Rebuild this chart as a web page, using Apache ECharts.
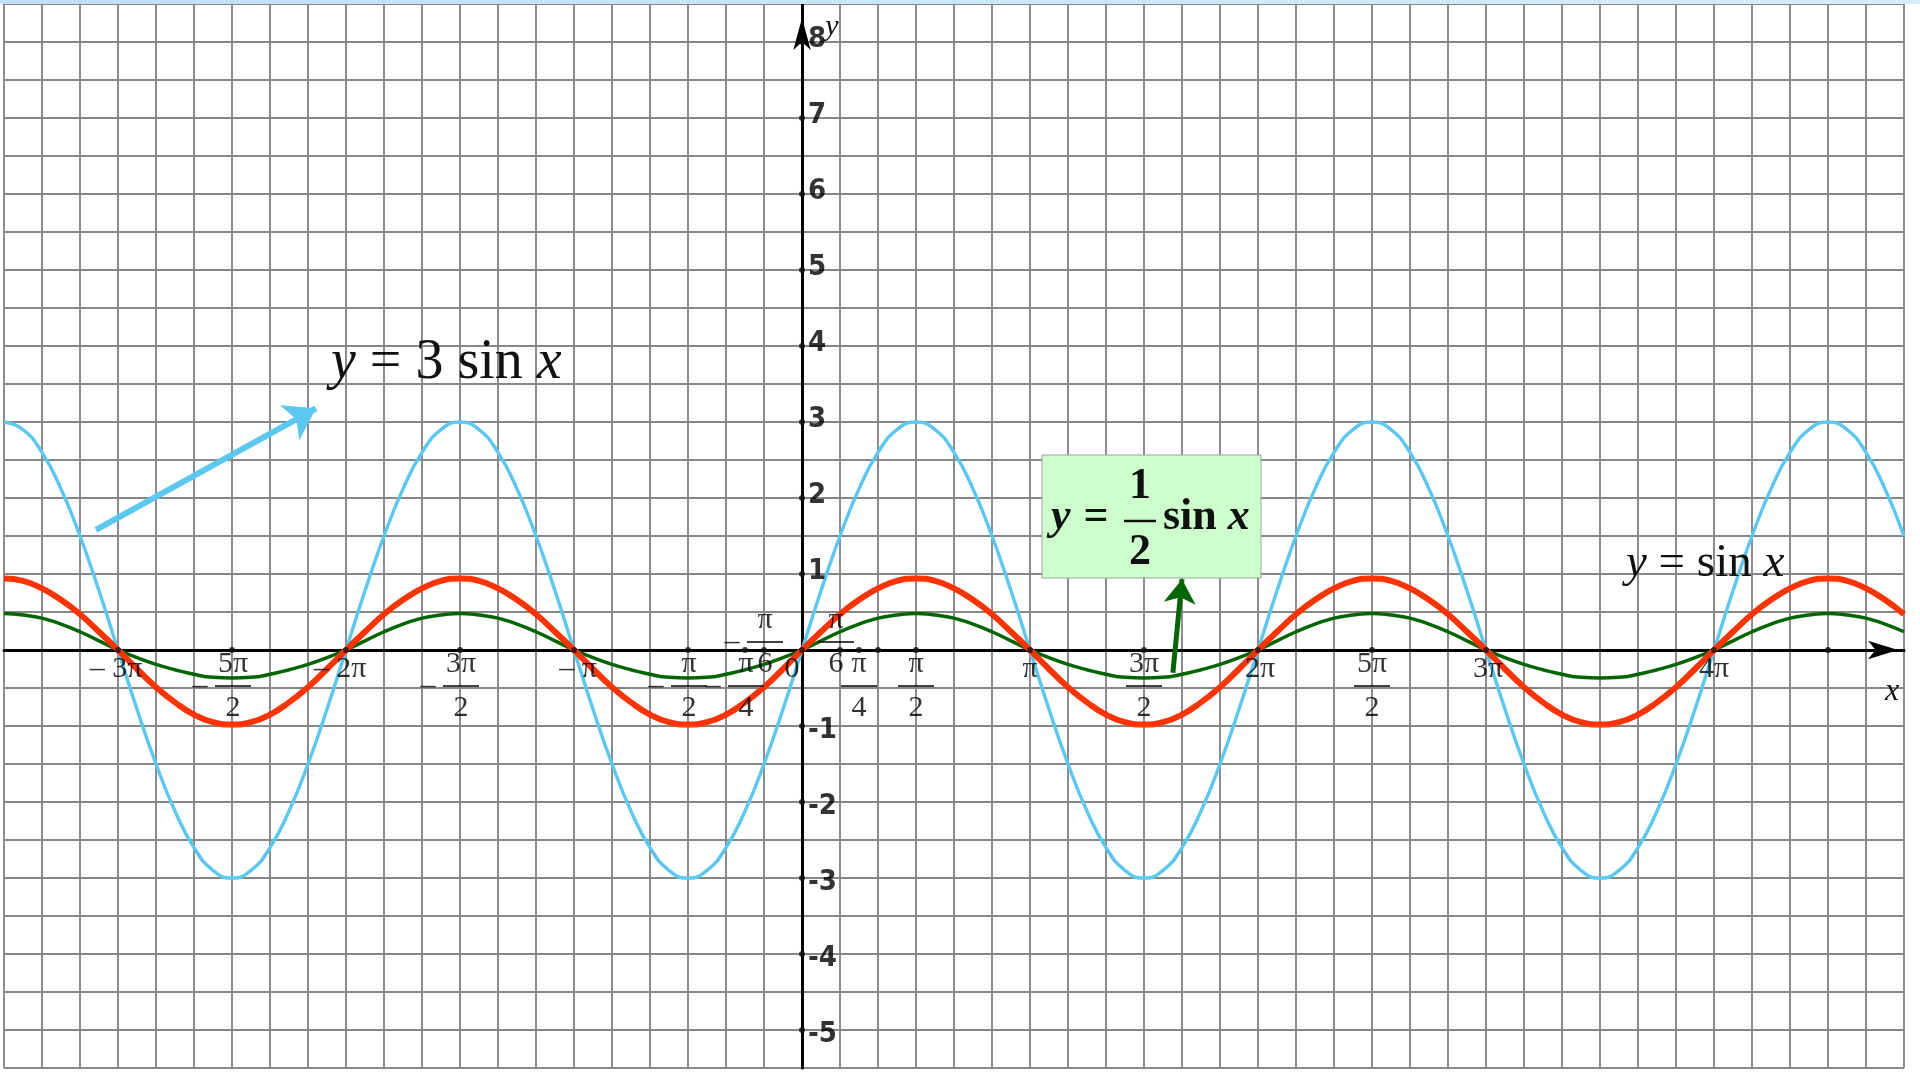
<!DOCTYPE html>
<html>
<head>
<meta charset="utf-8">
<script src="https://cdn.jsdelivr.net/npm/echarts@6/dist/echarts.min.js"></script>
<style>
html,body{margin:0;padding:0;background:#fff;overflow:hidden;}
#c{width:1920px;height:1073px;}
</style>
</head>
<body>
<div id="c"></div>
<script>
// x positions in units of pi/6 (sampled every pi/12)
const xSixths = [-21,-20.5,-20,-19.5,-19,-18.5,-18,-17.5,-17,-16.5,-16,-15.5,-15,-14.5,-14,-13.5,-13,-12.5,
  -12,-11.5,-11,-10.5,-10,-9.5,-9,-8.5,-8,-7.5,-7,-6.5,-6,-5.5,-5,-4.5,-4,-3.5,-3,-2.5,-2,-1.5,-1,-0.5,
  0,0.5,1,1.5,2,2.5,3,3.5,4,4.5,5,5.5,6,6.5,7,7.5,8,8.5,9,9.5,10,10.5,11,11.5,
  12,12.5,13,13.5,14,14.5,15,15.5,16,16.5,17,17.5,18,18.5,19,19.5,20,20.5,21,21.5,22,22.5,23,23.5,
  24,24.5,25,25.5,26,26.5,27,27.5,28,28.5,29];
// y = 3 sin x (light blue)
const y3sin = [3,2.9,2.6,2.12,1.5,0.78,0,-0.78,-1.5,-2.12,-2.6,-2.9,-3,-2.9,-2.6,-2.12,-1.5,-0.78,
  0,0.78,1.5,2.12,2.6,2.9,3,2.9,2.6,2.12,1.5,0.78,0,-0.78,-1.5,-2.12,-2.6,-2.9,-3,-2.9,-2.6,-2.12,-1.5,-0.78,
  0,0.78,1.5,2.12,2.6,2.9,3,2.9,2.6,2.12,1.5,0.78,0,-0.78,-1.5,-2.12,-2.6,-2.9,-3,-2.9,-2.6,-2.12,-1.5,-0.78,
  0,0.78,1.5,2.12,2.6,2.9,3,2.9,2.6,2.12,1.5,0.78,0,-0.78,-1.5,-2.12,-2.6,-2.9,-3,-2.9,-2.6,-2.12,-1.5,-0.78,
  0,0.78,1.5,2.12,2.6,2.9,3,2.9,2.6,2.12,1.5];
// y = sin x (red)
const ysin = [0.94,0.91,0.81,0.66,0.47,0.24,0,-0.25,-0.49,-0.69,-0.85,-0.95,-0.98,-0.95,-0.85,-0.69,-0.49,-0.25,
  0,0.24,0.47,0.66,0.81,0.91,0.94,0.91,0.81,0.66,0.47,0.24,0,-0.25,-0.49,-0.69,-0.85,-0.95,-0.98,-0.95,-0.85,-0.69,-0.49,-0.25,
  0,0.24,0.47,0.66,0.81,0.91,0.94,0.91,0.81,0.66,0.47,0.24,0,-0.25,-0.49,-0.69,-0.85,-0.95,-0.98,-0.95,-0.85,-0.69,-0.49,-0.25,
  0,0.24,0.47,0.66,0.81,0.91,0.94,0.91,0.81,0.66,0.47,0.24,0,-0.25,-0.49,-0.69,-0.85,-0.95,-0.98,-0.95,-0.85,-0.69,-0.49,-0.25,
  0,0.24,0.47,0.66,0.81,0.91,0.94,0.91,0.81,0.66,0.47];
// y = 1/2 sin x (dark green)
const yHalfSin = [0.48,0.46,0.42,0.34,0.24,0.12,0,-0.1,-0.19,-0.26,-0.32,-0.36,-0.37,-0.36,-0.32,-0.26,-0.19,-0.1,
  0,0.12,0.24,0.34,0.42,0.46,0.48,0.46,0.42,0.34,0.24,0.12,0,-0.1,-0.19,-0.26,-0.32,-0.36,-0.37,-0.36,-0.32,-0.26,-0.19,-0.1,
  0,0.12,0.24,0.34,0.42,0.46,0.48,0.46,0.42,0.34,0.24,0.12,0,-0.1,-0.19,-0.26,-0.32,-0.36,-0.37,-0.36,-0.32,-0.26,-0.19,-0.1,
  0,0.12,0.24,0.34,0.42,0.46,0.48,0.46,0.42,0.34,0.24,0.12,0,-0.1,-0.19,-0.26,-0.32,-0.36,-0.37,-0.36,-0.32,-0.26,-0.19,-0.1,
  0,0.12,0.24,0.34,0.42,0.46,0.48,0.46,0.42,0.34,0.24];
// x-axis tick marks (pi/6 units) and their labels
const xTickPos    = [-18, -15, -12, -9, -6, -3, -1.5, -1, 0, 1, 1.5, 2, 3, 6, 9, 12, 15, 18, 24, 27];
const xTickLabels = ['-3π','-5π/2','-2π','-3π/2','-π','-π/2','-π/4','-π/6','0','π/6','π/4','','π/2','π','3π/2','2π','5π/2','3π','4π',''];
// y-axis tick marks
const yTickVals = [8,7,6,5,4,3,2,1,-1,-2,-3,-4,-5];
// arrows (data coords: [x in pi/6, y])
const arrow3Start = [-18.58, 1.58], arrow3End = [-12.79, 3.18];
const arrowHalfStart = [9.76, -0.30], arrowHalfEnd = [10.0, 0.93];

const serif = "'Liberation Serif','Times New Roman',serif";
const plainOffsets = {'-3π':[-2,0],'-2π':[-6,0],'-π':[4,0],'0':[-10,0],'π':[0,0],'2π':[2,0],'3π':[2,0],'4π':[0,0]};

const tickItems = xTickPos.map((x, i) => {
  const t = xTickLabels[i];
  const label = {show: t !== ''};
  if (t.indexOf('/') >= 0) {
    const neg = t[0] === '-';
    const parts = t.replace('-', '').split('/');
    const s = neg ? '{s| }' : '';
    const m = neg ? '{m|–}' : '';
    label.formatter = s + '{n|' + parts[0] + '}\n' + m + '{b| }\n' + s + '{n|' + parts[1] + '}';
    if (parts[1] === '6') {
      label.position = 'inside';
      label.offset = [neg ? -14 : -4, -8];
    } else {
      label.position = 'bottom';
      label.distance = 0;
      label.offset = [neg ? -14 : 0, 0];
    }
  } else if (t !== '') {
    label.formatter = t.replace('-', '– ');
    label.position = 'bottom';
    label.distance = 1;
    label.offset = plainOffsets[t] || [0, 0];
  }
  return {value: [x, 0], label: label};
});

const yItems = yTickVals.map(v => ({value: [0, v], label: {offset: [0, v > 0 ? -3 : 4]}}));

const gridLine = {show: true, lineStyle: {color: '#878787', width: 1.9}};

const chart = echarts.init(document.getElementById('c'));
chart.setOption({
  animation: false,
  backgroundColor: '#ffffff',
  grid: {left: 4, right: 16, top: 4, bottom: 5, containLabel: false},
  xAxis: {
    type: 'value', min: -21, max: 29, interval: 1,
    splitLine: gridLine,
    axisTick: {show: false},
    axisLabel: {show: false},
    axisLine: {show: true, onZero: true, lineStyle: {color: '#000', width: 3},
      symbol: ['none', 'arrow'], symbolSize: [14, 30], symbolOffset: [0, -6]}
  },
  yAxis: {
    type: 'value', min: -5.5, max: 8.5, interval: 0.5,
    splitLine: gridLine,
    axisTick: {show: false},
    axisLabel: {show: false},
    axisLine: {show: true, onZero: true, lineStyle: {color: '#000', width: 3},
      symbol: ['none', 'arrow'], symbolSize: [13, 32], symbolOffset: [0, -14]}
  },
  series: [
    {
      name: 'y=3sinx', type: 'line', smooth: true, showSymbol: false, z: 2,
      data: xSixths.map((x, i) => [x, y3sin[i]]),
      lineStyle: {color: '#5ac8f0', width: 3.5},
      markLine: {
        silent: true, symbol: ['none', 'arrow'], symbolSize: 30,
        label: {show: false},
        lineStyle: {color: '#5ac8f0', width: 6, type: 'solid'},
        data: [[{coord: arrow3Start}, {coord: arrow3End}]]
      }
    },
    {
      name: 'y=1/2sinx', type: 'line', smooth: true, showSymbol: false, z: 3,
      data: xSixths.map((x, i) => [x, yHalfSin[i]]),
      lineStyle: {color: '#006600', width: 3.5},
      markLine: {
        silent: true, symbol: ['none', 'arrow'], symbolSize: 24,
        label: {show: false},
        lineStyle: {color: '#006600', width: 5, type: 'solid'},
        data: [[{coord: arrowHalfStart}, {coord: arrowHalfEnd}]]
      }
    },
    {
      name: 'y=sinx', type: 'line', smooth: true, showSymbol: false, z: 4,
      data: xSixths.map((x, i) => [x, ysin[i]]),
      lineStyle: {color: '#ff3300', width: 6}
    },
    {
      name: 'xticks', type: 'scatter', z: 6, symbol: 'circle', symbolSize: 6, silent: true,
      itemStyle: {color: '#111'},
      data: tickItems,
      label: {
        show: true, color: '#000', fontFamily: serif, fontSize: 30, lineHeight: 30,
        rich: {
          n: {fontFamily: serif, fontSize: 30, width: 36, align: 'center', lineHeight: 22, color: '#000'},
          s: {width: 30, lineHeight: 22},
          m: {fontFamily: serif, fontSize: 30, width: 30, lineHeight: 22, color: '#000'},
          b: {width: 36, height: 1.8, align: 'center', backgroundColor: '#111', lineHeight: 22}
        }
      }
    },
    {
      name: 'yticks', type: 'scatter', z: 6, symbol: 'circle', symbolSize: 6, silent: true,
      itemStyle: {color: '#111'},
      data: yItems,
      label: {
        show: true, position: 'right', distance: 3,
        formatter: p => String(p.value[1]),
        fontFamily: "'Liberation Sans Narrow','DejaVu Sans Condensed','Liberation Sans',sans-serif",
        fontWeight: 'bold', fontSize: 29, color: '#000'
      }
    }
  ],
  graphic: [
    {type: 'rect', z: 100, shape: {x: 0, y: 0, width: 1920, height: 4},
      style: {fill: new echarts.graphic.LinearGradient(0, 0, 1, 0, [{offset: 0, color: '#bfe0f7'}, {offset: 1, color: '#d6ecfb'}])}},
    // y = 3 sin x
    {type: 'text', z: 100, x: 331, y: 363,
      style: {text: '{i|y} = 3 sin {i|x}', fill: '#111', fontFamily: serif, fontSize: 56,
        align: 'left', verticalAlign: 'middle', textAlign: 'left', textVerticalAlign: 'middle',
        rich: {i: {fontFamily: serif, fontSize: 56, fontStyle: 'italic', fill: '#111'}}}},
    // y = sin x
    {type: 'text', z: 100, x: 1626, y: 564,
      style: {text: '{i|y} = sin {i|x}', fill: '#111', fontFamily: serif, fontSize: 47,
        align: 'left', verticalAlign: 'middle', textAlign: 'left', textVerticalAlign: 'middle',
        rich: {i: {fontFamily: serif, fontSize: 47, fontStyle: 'italic', fill: '#111'}}}},
    // green box
    {type: 'rect', z: 100, shape: {x: 1042, y: 455, width: 219, height: 123},
      style: {fill: '#ccffcc', stroke: '#a0a0a0', lineWidth: 1}},
    {type: 'text', z: 101, x: 1051, y: 518,
      style: {text: 'y', fill: '#111', fontFamily: serif, fontSize: 44, fontWeight: 'bold', fontStyle: 'italic',
        align: 'left', verticalAlign: 'middle', textAlign: 'left', textVerticalAlign: 'middle'}},
    {type: 'text', z: 101, x: 1096, y: 518,
      style: {text: '=', fill: '#111', fontFamily: serif, fontSize: 44, fontWeight: 'bold',
        align: 'center', verticalAlign: 'middle', textAlign: 'center', textVerticalAlign: 'middle'}},
    {type: 'text', z: 101, x: 1140, y: 487,
      style: {text: '1', fill: '#111', fontFamily: serif, fontSize: 44, fontWeight: 'bold',
        align: 'center', verticalAlign: 'middle', textAlign: 'center', textVerticalAlign: 'middle'}},
    {type: 'line', z: 101, shape: {x1: 1124, y1: 521, x2: 1156, y2: 521}, style: {stroke: '#111', lineWidth: 2.5}},
    {type: 'text', z: 101, x: 1140, y: 553,
      style: {text: '2', fill: '#111', fontFamily: serif, fontSize: 44, fontWeight: 'bold',
        align: 'center', verticalAlign: 'middle', textAlign: 'center', textVerticalAlign: 'middle'}},
    {type: 'text', z: 101, x: 1163, y: 518,
      style: {text: 'sin {i|x}', fill: '#111', fontFamily: serif, fontSize: 44, fontWeight: 'bold',
        align: 'left', verticalAlign: 'middle', textAlign: 'left', textVerticalAlign: 'middle',
        rich: {i: {fontFamily: serif, fontSize: 44, fontWeight: 'bold', fontStyle: 'italic', fill: '#111'}}}},
    // axis names
    {type: 'text', z: 100, x: 1892, y: 692,
      style: {text: 'x', fill: '#111', fontFamily: serif, fontSize: 32, fontStyle: 'italic',
        align: 'center', verticalAlign: 'middle', textAlign: 'center', textVerticalAlign: 'middle'}},
    {type: 'text', z: 100, x: 832, y: 27,
      style: {text: 'y', fill: '#111', fontFamily: serif, fontSize: 30, fontStyle: 'italic',
        align: 'center', verticalAlign: 'middle', textAlign: 'center', textVerticalAlign: 'middle'}}
  ]
});
</script>
</body>
</html>
